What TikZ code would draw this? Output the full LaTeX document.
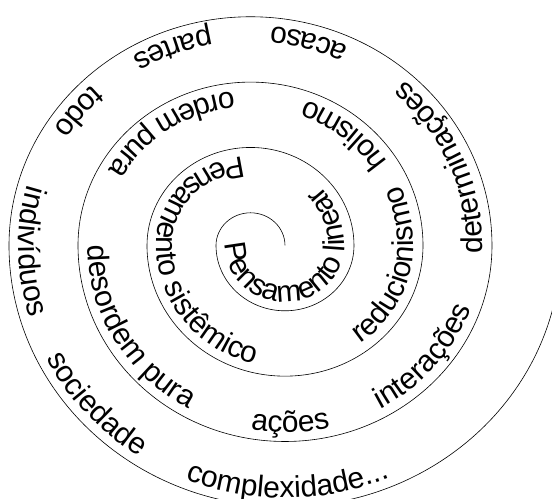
\documentclass[tikz,border=0pt]{standalone}
\usepackage{fontspec}
\setmainfont{Liberation Sans}
\usetikzlibrary{decorations.text}
\newcommand{\lblfont}{\fontsize{30}{36}\selectfont}

\begin{document}
\begin{tikzpicture}[x=1pt,y=0.947pt,spiral/.style={draw=black,line width=0.6pt},lbl/.style={decorate,decoration={text along path,text align=left,text={|\lblfont|#1}}}]
\coordinate (sw) at (-250.5,-267.7);
\coordinate (ne) at (301.5,259.2);
\useasboundingbox (sw) rectangle (ne);
\clip (sw) rectangle (ne);
\coordinate (c1) at (0,0);
\coordinate (c2) at (34.5,0);
\draw[spiral] (c2) arc[start angle=0,end angle=180,radius=34.5] arc[start angle=180,end angle=360,radius=69] arc[start angle=0,end angle=180,radius=103.5] arc[start angle=180,end angle=360,radius=138] arc[start angle=0,end angle=180,radius=172.5] arc[start angle=180,end angle=360,radius=207] arc[start angle=0,end angle=180,radius=241.5] arc[start angle=180,end angle=346,radius=276];
\path[lbl={Pensamento linear}] ([shift={(c2)}]178:59.5) arc[start angle=178,end angle=360,radius=59.5] arc[start angle=0,end angle=80,radius=94];
\path[lbl={Pensamento sistêmico}] ([shift={(c1)}]95:94) arc[start angle=95,end angle=180,radius=94] arc[start angle=180,end angle=300,radius=128.5];
\path[lbl={ordem pura}] ([shift={(c1)}]96:163) arc[start angle=96,end angle=178,radius=163];
\path[lbl={holismo}] ([shift={(c1)}]33:163) arc[start angle=33,end angle=88,radius=163];
\path[lbl={reducionismo}] ([shift={(c2)}]306:128.5) arc[start angle=306,end angle=360,radius=128.5] arc[start angle=0,end angle=60,radius=163];
\path[lbl={desordem pura}] ([shift={(c2)}]180:197.5) arc[start angle=180,end angle=255,radius=197.5];
\path[lbl={ações}] ([shift={(c2)}]260:197.5) arc[start angle=260,end angle=295,radius=197.5];
\path[lbl={interações}] ([shift={(c2)}]299:197.5) arc[start angle=299,end angle=355,radius=197.5];
\path[lbl={determinações}] ([shift={(c2)}]357.5:197.5) arc[start angle=357.5,end angle=360,radius=197.5] arc[start angle=0,end angle=62,radius=232];
\path[lbl={acaso}] ([shift={(c1)}]65:232) arc[start angle=65,end angle=95,radius=232];
\path[lbl={partes}] ([shift={(c1)}]100:232) arc[start angle=100,end angle=128,radius=232];
\path[lbl={todo}] ([shift={(c1)}]133:232) arc[start angle=133,end angle=158,radius=232];
\path[lbl={indivíduos}] ([shift={(c1)}]164:232) arc[start angle=164,end angle=180,radius=232] arc[start angle=180,end angle=205,radius=266.5];
\path[lbl={sociedade}] ([shift={(c2)}]206.5:266.5) arc[start angle=206.5,end angle=245,radius=266.5];
\path[lbl={complexidade...}] ([shift={(c2)}]248:266.5) arc[start angle=248,end angle=305,radius=266.5];
\end{tikzpicture}
\end{document}
